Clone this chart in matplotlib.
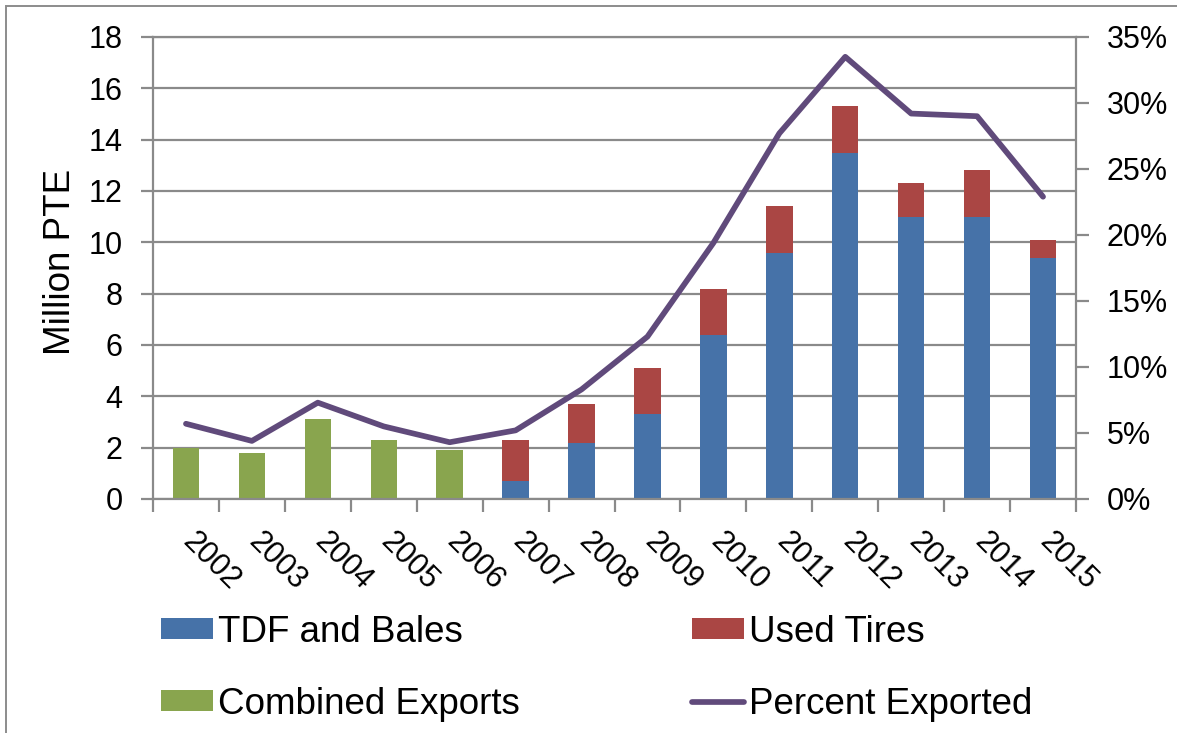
import matplotlib
matplotlib.use("Agg")
import matplotlib.pyplot as plt
import numpy as np
from matplotlib.patches import Patch, Rectangle
from matplotlib.lines import Line2D
from matplotlib.ticker import FuncFormatter, MultipleLocator, FixedLocator
from matplotlib.transforms import ScaledTranslation

# Tire-derived exports, million passenger tire equivalents (PTE)
years = ["2002", "2003", "2004", "2005", "2006", "2007", "2008",
         "2009", "2010", "2011", "2012", "2013", "2014", "2015"]
combined_exports = [2.0, 1.8, 3.1, 2.3, 1.9, 0, 0, 0, 0, 0, 0, 0, 0, 0]
tdf_and_bales = [0, 0, 0, 0, 0, 0.7, 2.2, 3.3, 6.4, 9.6, 13.5, 11.0, 11.0, 9.4]
used_tires = [0, 0, 0, 0, 0, 1.6, 1.5, 1.8, 1.8, 1.8, 1.8, 1.3, 1.8, 0.7]
percent_exported = [5.7, 4.4, 7.3, 5.5, 4.3, 5.2, 8.3, 12.3, 19.4, 27.7,
                    33.5, 29.2, 29.0, 22.9]

BLUE = "#4672A8"
RED = "#AA4644"
GREEN = "#89A54E"
PURPLE = "#604A7B"
GRID = "#8A8A8A"

plt.rcParams["font.family"] = ["Liberation Sans", "DejaVu Sans"]
TICK_FS = 22
TITLE_FS = 26.5

fig = plt.figure(figsize=(11.77, 7.33), dpi=100)
ax = fig.add_axes([153 / 1177, 1 - 499 / 733, (1076 - 153) / 1177, (499 - 37) / 733])

x = np.arange(len(years))
w = 0.4
ax.bar(x, combined_exports, w, color=GREEN, zorder=2)
ax.bar(x, tdf_and_bales, w, color=BLUE, zorder=2)
ax.bar(x, used_tires, w, bottom=tdf_and_bales, color=RED, zorder=2)

ax.set_xlim(-0.5, len(years) - 0.5)
ax.set_ylim(0, 18)
ax.yaxis.set_major_locator(MultipleLocator(2))
ax.set_axisbelow(True)
ax.grid(axis="y", color=GRID, lw=1.6, zorder=0)

# category boundaries carry the tick marks, centres carry the labels
ax.xaxis.set_major_locator(FixedLocator(np.arange(-0.5, len(years), 1.0)))
ax.xaxis.set_major_formatter(FuncFormatter(lambda v, p: ""))
ax.xaxis.set_minor_locator(FixedLocator(x))
ax.set_xticklabels(years, minor=True)
ax.tick_params(axis="x", which="major", length=9, width=1.6, color=GRID, direction="out")
ax.tick_params(axis="x", which="minor", length=0, pad=20, labelsize=TICK_FS)
for lab in ax.get_xticklabels(minor=True):
    lab.set_rotation(-45)
    lab.set_ha("left")
    lab.set_va("top")
    lab.set_transform(lab.get_transform() + ScaledTranslation(-9 / 100, 0, fig.dpi_scale_trans))

ax.tick_params(axis="y", length=9, width=1.6, color=GRID, pad=13, labelsize=TICK_FS)
for side in ["left", "bottom", "top"]:
    ax.spines[side].set_color(GRID)
    ax.spines[side].set_linewidth(1.6)
ax.spines["right"].set_visible(False)

ax2 = ax.twinx()
ax2.plot(x, np.array(percent_exported) / 100, color=PURPLE, lw=4.1,
         solid_capstyle="round", solid_joinstyle="round", zorder=3)
ax2.set_ylim(0, 0.35)
ax2.yaxis.set_major_locator(MultipleLocator(0.05))
ax2.yaxis.set_major_formatter(FuncFormatter(lambda v, p: f"{v * 100:.0f}%"))
ax2.tick_params(axis="y", length=9, width=1.6, color=GRID, pad=13, labelsize=TICK_FS)
for side in ["left", "bottom", "top"]:
    ax2.spines[side].set_visible(False)
ax2.spines["right"].set_color(GRID)
ax2.spines["right"].set_linewidth(1.6)

fig.text(61 / 1177, 1 - 262 / 733, "Million PTE", rotation=90,
         ha="center", va="center", fontsize=TITLE_FS)

handles = [
    Patch(facecolor=BLUE, label="TDF and Bales"),
    Patch(facecolor=GREEN, label="Combined Exports"),
    Patch(facecolor=RED, label="Used Tires"),
    Line2D([], [], color=PURPLE, lw=4.1, solid_capstyle="round", label="Percent Exported"),
]
fig.legend(handles=handles, ncol=2, loc="upper left",
           bbox_to_anchor=(161 / 1177, 1 - 615 / 733), frameon=False,
           fontsize=TITLE_FS, borderpad=0, borderaxespad=0,
           handlelength=1.41, handleheight=0.5, handletextpad=0.14,
           labelspacing=1.0, columnspacing=4.67)

# chart-area border
fig.add_artist(Rectangle((6 / 1177, -0.05), 1.2, 1 - 6 / 733 + 0.05,
                         transform=fig.transFigure, fill=False,
                         edgecolor="#8C8C8C", lw=1.4))

fig.savefig("out.png", dpi=100)
